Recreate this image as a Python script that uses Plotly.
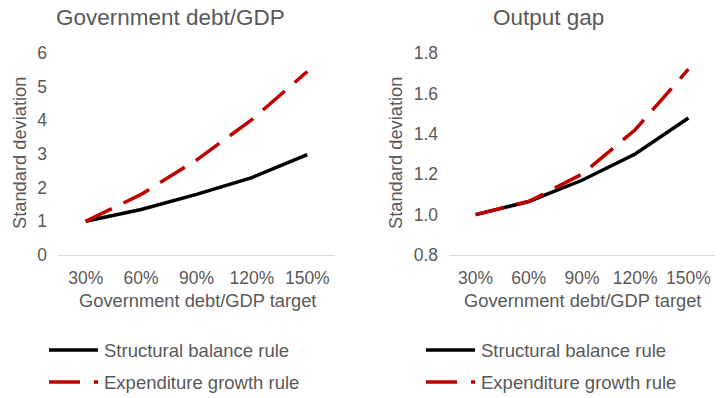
import plotly.graph_objects as go

categories = ["30%", "60%", "90%", "120%", "150%"]
debt_structural = [1.0, 1.35, 1.8, 2.3, 2.98]
debt_expenditure = [1.0, 1.8, 2.82, 4.02, 5.45]
gap_structural = [1.0, 1.065, 1.17, 1.3, 1.478]
gap_expenditure = [1.0, 1.065, 1.2, 1.42, 1.72]

W, H = 726, 398
TXT = "#595959"
FONT = "Liberation Sans, Arial, sans-serif"
BLACK = "#000000"
RED = "#C00000"
DASH = "29px,13px"

def px(x):
    return x / W

def py(y):
    return 1 - y / H

fig = go.Figure()
fig.add_trace(go.Scatter(x=categories, y=debt_structural, mode="lines",
                         line=dict(color=BLACK, width=3.5), xaxis="x", yaxis="y",
                         showlegend=False))
fig.add_trace(go.Scatter(x=categories, y=debt_expenditure, mode="lines",
                         line=dict(color=RED, width=3.5, dash=DASH), xaxis="x", yaxis="y",
                         showlegend=False))
fig.add_trace(go.Scatter(x=categories, y=gap_structural, mode="lines",
                         line=dict(color=BLACK, width=3.5), xaxis="x2", yaxis="y2",
                         showlegend=False))
fig.add_trace(go.Scatter(x=categories, y=gap_expenditure, mode="lines",
                         line=dict(color=RED, width=3.5, dash=DASH), xaxis="x2", yaxis="y2",
                         showlegend=False))

ydom = [py(255), py(53)]
xcommon = dict(type="category", showgrid=False, showline=True, linecolor="#D9D9D9",
               linewidth=1, ticks="", tickfont=dict(size=17.5, color=TXT, family=FONT),
               ticklabelstandoff=7, range=[-0.5, 4.5], zeroline=False, fixedrange=True,
               automargin=False)
ycommon = dict(showgrid=False, showline=False, zeroline=False, ticks="",
               tickfont=dict(size=17.5, color=TXT, family=FONT), ticklabelstandoff=10,
               fixedrange=True, automargin=False)

fig.update_layout(
    template="none",
    width=W, height=H,
    margin=dict(l=0, r=0, t=0, b=0, pad=0),
    paper_bgcolor="white", plot_bgcolor="white",
    font=dict(family=FONT, color=TXT),
    showlegend=False,
    xaxis=dict(domain=[px(58), px(335)], anchor="y", **xcommon),
    yaxis=dict(domain=ydom, anchor="x", range=[0, 6], dtick=1, tick0=0, **ycommon),
    xaxis2=dict(domain=[px(449), px(715)], anchor="y2", **xcommon),
    yaxis2=dict(domain=ydom, anchor="x2", range=[0.8, 1.8], dtick=0.2, tick0=0.8,
                tickformat=".1f", **ycommon),
)

annots = [
    dict(text="Government debt/GDP", x=px(170), y=py(18), size=22.5),
    dict(text="Output gap", x=px(548), y=py(18), size=22.5),
    dict(text="Government debt/GDP target", x=px(197), y=py(300), size=18.3),
    dict(text="Government debt/GDP target", x=px(582), y=py(300), size=18.3),
]
for a in annots:
    fig.add_annotation(text=a["text"], x=a["x"], y=a["y"], xref="paper", yref="paper",
                       showarrow=False, xanchor="center", yanchor="middle",
                       font=dict(size=a["size"], color=TXT, family=FONT))
for xc in (19, 395):
    fig.add_annotation(text="Standard deviation", x=px(xc), y=py(153), xref="paper",
                       yref="paper", showarrow=False, textangle=-90,
                       xanchor="center", yanchor="middle",
                       font=dict(size=18.3, color=TXT, family=FONT))

# legends
legend_items = [("Structural balance rule", BLACK, "solid", 350),
                ("Expenditure growth rule", RED, "31px,14px", 382)]
for x0 in (49, 426):
    for label, col, dash, yy in legend_items:
        fig.add_shape(type="line", xref="paper", yref="paper",
                      x0=px(x0), x1=px(x0 + 49), y0=py(yy), y1=py(yy),
                      line=dict(color=col, width=3.5, dash=dash))
        fig.add_annotation(text=label, x=px(x0 + 53), y=py(yy), xref="paper", yref="paper",
                           showarrow=False, xanchor="left", yanchor="middle",
                           font=dict(size=18.5, color=TXT, family=FONT))

fig.write_html("out.html", config={"displayModeBar": False},
               post_script="document.body.style.margin='0';document.body.style.overflow='hidden';")
